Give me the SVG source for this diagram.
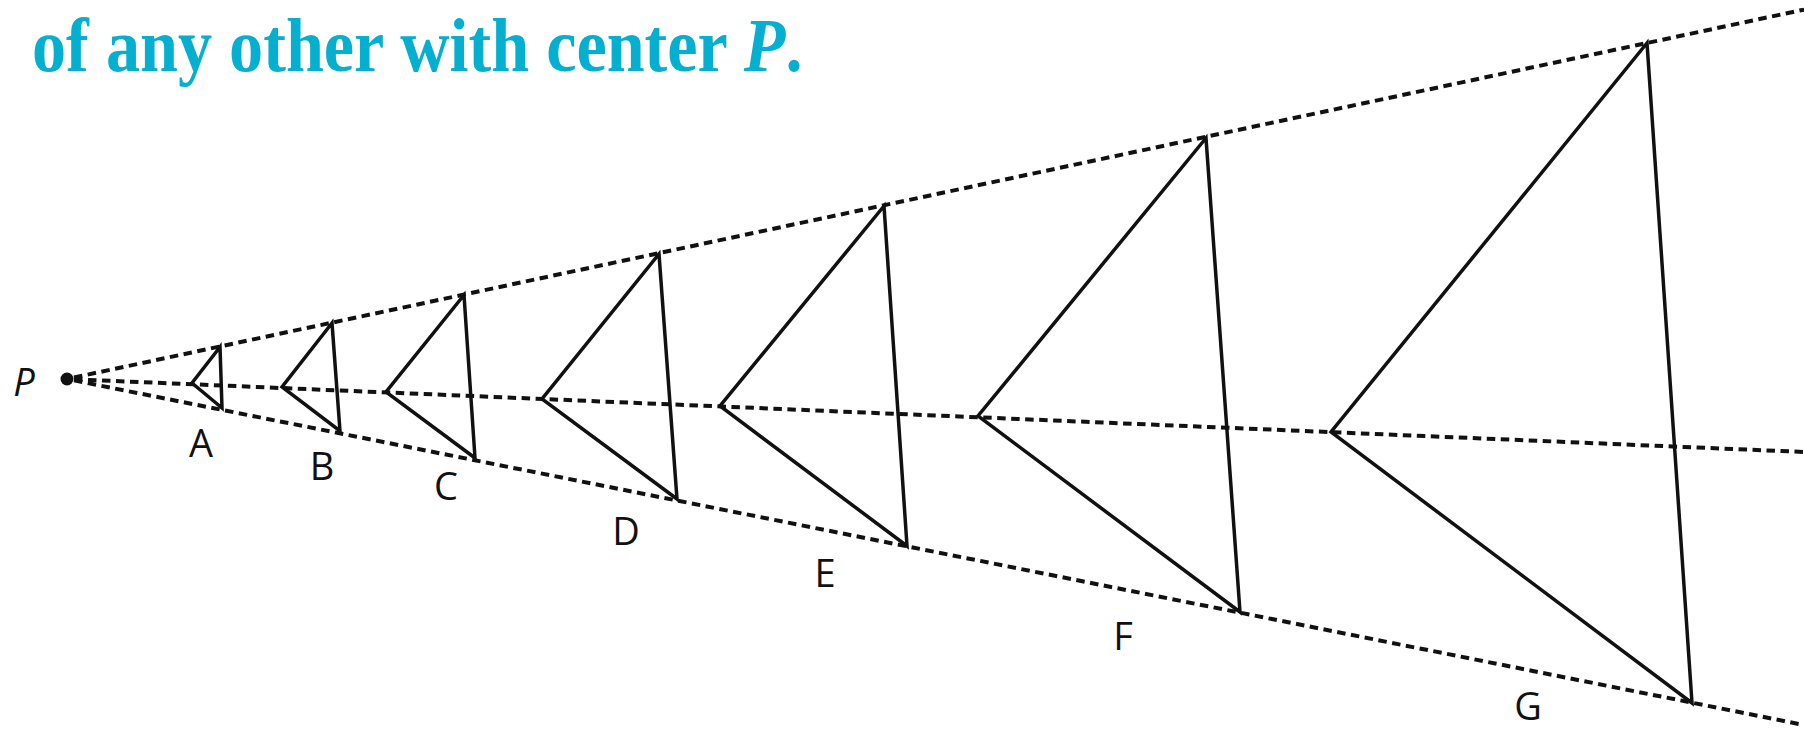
<svg xmlns="http://www.w3.org/2000/svg" width="1804" height="731" viewBox="0 0 1804 731">
<style>
.title{font-family:"Liberation Serif",serif;font-weight:bold;font-size:77px;fill:#05AFCF}
.lbl{font-family:"Open Sans","Noto Sans",sans-serif;font-size:38px;fill:#111;text-anchor:middle}
.ray{stroke:#111;stroke-width:4;stroke-dasharray:8.5 5.5;fill:none}
.tri{stroke:#111;stroke-width:3.5;fill:none;stroke-linejoin:miter}
</style>
<rect width="1804" height="731" fill="#fff"/>
<g id="title" transform="translate(32,71) scale(0.886,1)">
<text class="title" x="0" y="0">of any other with center <tspan font-style="italic">P</tspan>.</text>
</g>
<g id="connectors">
<line class="ray" x1="74" y1="377.5" x2="1804" y2="9.6"/>
<line class="ray" x1="74" y1="379.3" x2="1804" y2="452"/>
<line class="ray" x1="74" y1="380.4" x2="1804" y2="725"/>
</g>
<g id="P">
<circle cx="67" cy="379" r="6.5" fill="#111"/>
<text class="lbl" x="24" y="396" font-style="italic">P</text>
</g>
<g id="A">
<polygon class="tri" points="220,347 192,383 222,408"/>
<text class="lbl" x="201" y="457">A</text>
</g>
<g id="B">
<polygon class="tri" points="332,323 282,387 340,431"/>
<text class="lbl" x="322" y="480">B</text>
</g>
<g id="C">
<polygon class="tri" points="464,295 386,392 475,458"/>
<text class="lbl" x="446" y="500">C</text>
</g>
<g id="D">
<polygon class="tri" points="659,254 542,399 677,499"/>
<text class="lbl" x="626" y="545">D</text>
</g>
<g id="E">
<polygon class="tri" points="884,206 720,406 907,546"/>
<text class="lbl" x="825" y="587">E</text>
</g>
<g id="F">
<polygon class="tri" points="1206,138 978,416 1240,612"/>
<text class="lbl" x="1123" y="650">F</text>
</g>
<g id="G">
<polygon class="tri" points="1647,43 1331,432 1692,703"/>
<text class="lbl" x="1528" y="720">G</text>
</g>
</svg>
